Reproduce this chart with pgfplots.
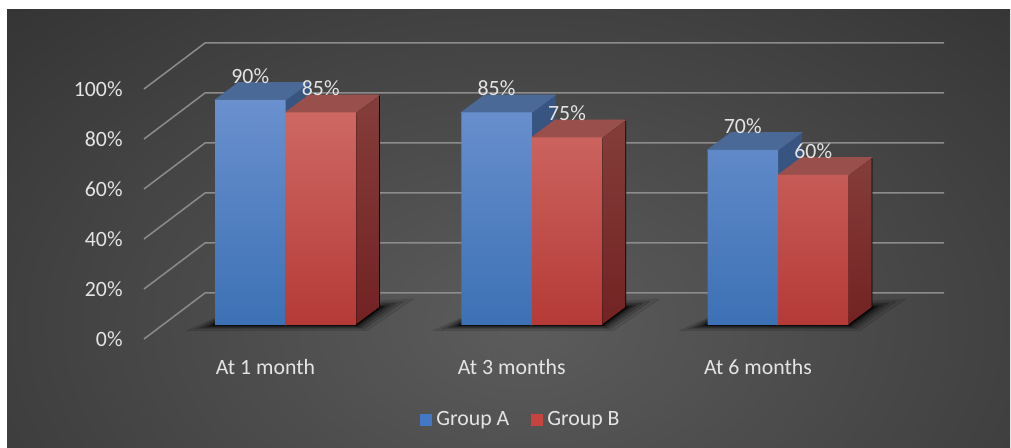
\documentclass[border=0pt]{standalone}
\usepackage{fontspec}
\setmainfont{Carlito}
\usepackage{pgfplots}
\usepackage{pgfplotstable}
\pgfplotsset{compat=1.18}
\definecolor{txt}{RGB}{228,228,228}
\definecolor{gridc}{RGB}{140,140,140}
\definecolor{bgin}{RGB}{92,92,92}
\definecolor{bgout}{RGB}{30,30,30}
\definecolor{Afronttop}{RGB}{106,144,206}
\definecolor{Afrontbot}{RGB}{60,113,181}
\definecolor{Atop}{RGB}{74,105,150}
\definecolor{Aside}{RGB}{56,84,128}
\definecolor{Bfronttop}{RGB}{206,104,99}
\definecolor{Bfrontbot}{RGB}{181,58,55}
\definecolor{Btop}{RGB}{153,80,76}
\definecolor{Bsidetop}{RGB}{132,62,58}
\definecolor{Bsidebot}{RGB}{114,34,34}
\definecolor{Aleg}{RGB}{66,120,196}
\definecolor{Bleg}{RGB}{200,66,62}
\newcommand\lbl{\fontsize{10.9}{12}\selectfont}

\pgfplotsset{
  layers/mylayers/.define layer set={
    axis background,axis grid,axis ticks,axis lines,axis tick labels,
    main,shadowl,Aback,Afront,Bback,Bfront,vlabels,
    axis descriptions,axis foreground}{},
}

\pgfplotstableread{
x A B
0 90 85
1 85 75
2 70 60
}\data

\pgfdeclareplotmark{empty}{}

\begin{document}
\begin{tikzpicture}
\fill[white] (0,0) rectangle (505.5pt,224pt);
\begin{scope}
\clip (3.5pt,0pt) rectangle (505pt,219pt);
\fill[bgout] (3.5pt,0pt) rectangle (505pt,219pt);
\begin{pgfinterruptboundingbox}
\shade[inner color=bgin, outer color=bgout] (262pt,62pt) ellipse (560pt and 360pt);
\end{pgfinterruptboundingbox}
\end{scope}
\begin{axis}[at={(0,0)}, anchor=south west,
  set layers=mylayers,
  x=123.125pt, y=1.25pt,
  xmin=-1.15939, xmax=2.94619, ymin=-49.2, ymax=130,
  hide axis, clip=false,
  /pgf/number format/assume math mode=true,
  legend columns=2,
  legend style={at={(0.5163,0.0625)}, anchor=center, draw=none, fill=none,
    text=txt, font=\lbl, inner sep=0pt,
    /tikz/every even column/.append style={column sep=9pt}},
  legend image code/.code={\fill[#1] (0pt,-3pt) rectangle (6pt,3pt);},
]
% grid lines (back wall) and floor diagonals
\foreach \v in {0,20,40,60,80,100}{
  \edef\tmp{\noexpand\draw[gridc, line width=0.75pt]
    (axis cs:-0.57462,\v-5.6) -- (axis cs:-0.32690,\v+12.8) -- (axis cs:2.67411,\v+12.8);}
  \tmp
  \edef\tmp{\noexpand\node[anchor=east, inner sep=0pt, text=txt, font=\noexpand\lbl]
    at (axis cs:-0.6599,\v-5.8) {\v\noexpand\%};}
  \tmp
}
% category labels
\node[text=txt, font=\lbl, inner sep=0pt] at (axis cs:-0.0812,-17) {At 1 month};
\node[text=txt, font=\lbl, inner sep=0pt] at (axis cs:0.9188,-17) {At 3 months};
\node[text=txt, font=\lbl, inner sep=0pt] at (axis cs:1.9188,-17) {At 6 months};

% floor shadows
\addplot[on layer=shadowl, scatter, only marks, mark=empty, forget plot,
  scatter/@pre marker code/.code={%
    \foreach \e/\o in {14/0.09,10/0.12,7/0.16,4.5/0.2,2.5/0.28,1/0.4}{%
      \fill[black, opacity=\o] (-35.25pt-\e pt,-0.2*\e pt) -- (35.25pt+0.4*\e pt,-0.2*\e pt)
        -- (47pt+1.2*\e pt,8.75pt+0.3*\e pt) -- (-23.5pt,8.75pt) -- cycle;}%
  },
  scatter/@post marker code/.code={}]
  coordinates {(0,0) (1,0) (2,0)};

% Group A: side + top
\addplot[on layer=Aback, scatter, only marks, mark=empty, forget plot,
  visualization depends on={rawy\as\hval},
  scatter/@pre marker code/.code={%
    \pgfmathsetmacro\hh{-\hval*1.25}%
    \pgfmathsetmacro\hb{8.75-\hval*1.25}%
    \fill[Aside] (0pt,0pt) -- (11.75pt,8.75pt) -- (11.75pt,\hb pt) -- (0pt,\hh pt) -- cycle;
    \fill[Atop] (-35.25pt,0pt) -- (0pt,0pt) -- (11.75pt,8.75pt) -- (-23.5pt,8.75pt) -- cycle;
  },
  scatter/@post marker code/.code={}]
  table[x=x,y=A] {\data};
% Group A: front
\addplot[on layer=Afront, ybar, bar width=35.25pt, bar shift=-17.625pt, draw=none,
  top color=Afronttop, bottom color=Afrontbot, forget plot]
  table[x=x,y=A] {\data};

% Group B: side + top
\addplot[on layer=Bback, scatter, only marks, mark=empty, forget plot,
  visualization depends on={rawy\as\hval},
  scatter/@pre marker code/.code={%
    \pgfmathsetmacro\hh{-\hval*1.25}%
    \pgfmathsetmacro\hb{8.75-\hval*1.25}%
    \shade[top color=Bsidetop, bottom color=Bsidebot] (35.25pt,0pt) -- (47pt,8.75pt) -- (47pt,\hb pt) -- (35.25pt,\hh pt) -- cycle;
    \fill[Btop] (0pt,0pt) -- (35.25pt,0pt) -- (47pt,8.75pt) -- (11.75pt,8.75pt) -- cycle;
  },
  scatter/@post marker code/.code={}]
  table[x=x,y=B] {\data};
% Group B: front
\addplot[on layer=Bfront, ybar, bar width=35.25pt, bar shift=17.625pt, draw=none,
  top color=Bfronttop, bottom color=Bfrontbot, forget plot]
  table[x=x,y=B] {\data};

% value labels
\addplot[on layer=vlabels, only marks, mark=empty, forget plot,
  nodes near coords={\pgfmathprintnumber{\pgfplotspointmeta}\%},
  every node near coord/.append style={font=\lbl, text=txt, anchor=center,
    xshift=-17.625pt, yshift=12pt, inner sep=0pt}]
  table[x=x,y=A] {\data};
\addplot[on layer=vlabels, only marks, mark=empty, forget plot,
  nodes near coords={\pgfmathprintnumber{\pgfplotspointmeta}\%},
  every node near coord/.append style={font=\lbl, text=txt, anchor=center,
    xshift=17.625pt, yshift=12pt, inner sep=0pt}]
  table[x=x,y=B] {\data};

\addlegendimage{fill=Aleg, draw=none}
\addlegendentry{Group A}
\addlegendimage{fill=Bleg, draw=none}
\addlegendentry{Group B}
\end{axis}
\end{tikzpicture}
\end{document}
